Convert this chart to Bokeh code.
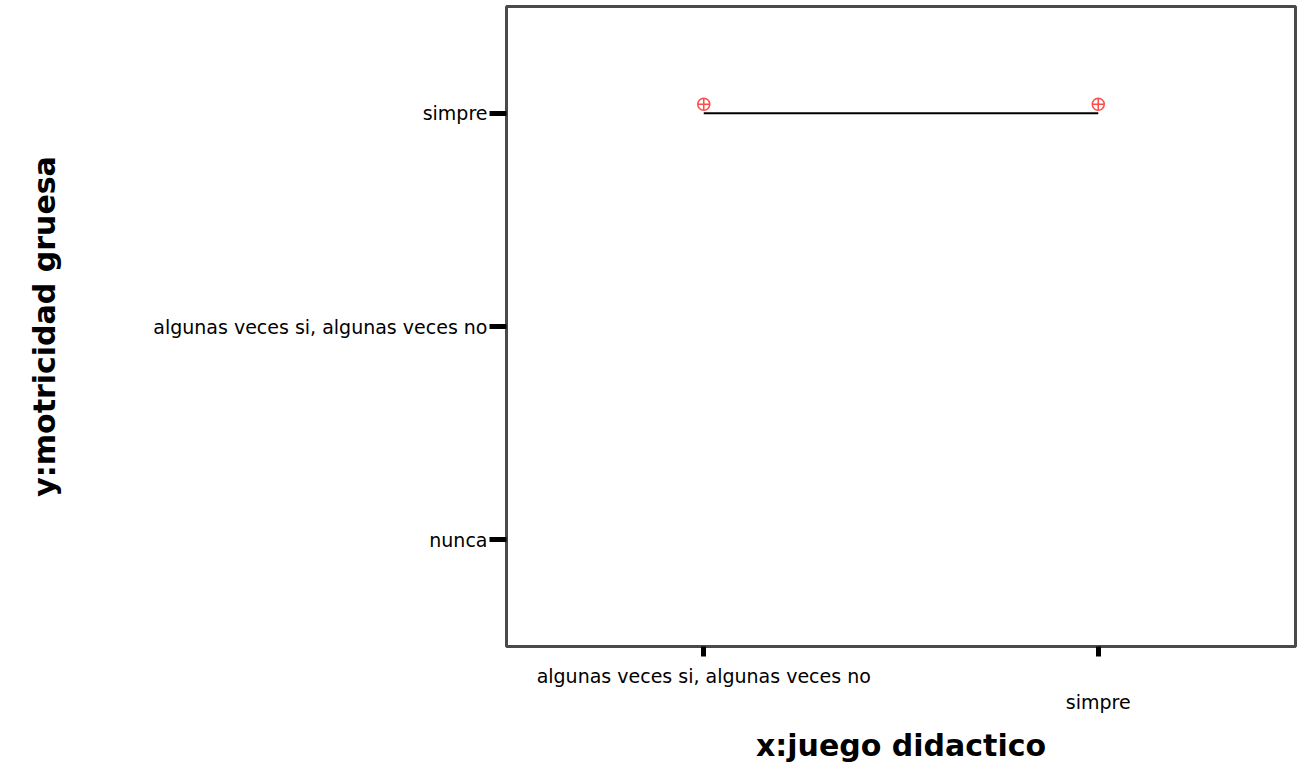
from bokeh.plotting import figure
from bokeh.models import Range1d, FixedTicker, ColumnDataSource
from bokeh.transform import dodge
from bokeh.embed import file_html
from bokeh.resources import INLINE

# ---- data ----
x_categories = ["algunas veces si, algunas veces no", "simpre"]
y_categories = ["nunca", "algunas veces si, algunas veces no", "simpre"]
point_x = ["algunas veces si, algunas veces no", "simpre"]
point_y = ["simpre", "simpre"]
x_title = "x:juego didactico"
y_title = "y:motricidad gruesa"

x_pos = [x_categories.index(c) + 1 for c in point_x]
y_pos = [y_categories.index(c) + 1 for c in point_y]
src = ColumnDataSource(dict(x=x_pos, y=y_pos))

p = figure(width=1297, height=765, output_backend="svg", toolbar_location=None,
           x_range=Range1d(0.5, len(x_categories) + 0.5),
           y_range=Range1d(0.5, len(y_categories) + 0.5),
           min_border_left=506, min_border_right=2, min_border_top=6,
           min_border_bottom=113)
p.background_fill_color = "white"
p.border_fill_color = "white"
p.outline_line_color = "#4a4a4a"
p.outline_line_width = 3
p.grid.visible = False

p.line("x", "y", source=src, line_color="black", line_width=2)
p.scatter(x="x", y=dodge("y", 0.042, range=p.y_range), source=src,
          marker="circle_cross", size=12, line_color="#ff4a4a",
          fill_color=None, line_width=1.5)

x_ticks = list(range(1, len(x_categories) + 1))
y_ticks = list(range(1, len(y_categories) + 1))
p.xaxis.ticker = FixedTicker(ticks=x_ticks)
p.yaxis.ticker = FixedTicker(ticks=y_ticks)
p.xaxis.major_label_overrides = {t: ("\n" * i) + c for i, (t, c) in enumerate(zip(x_ticks, x_categories))}
p.yaxis.major_label_overrides = {t: c for t, c in zip(y_ticks, y_categories)}

for ax in (p.xaxis[0], p.yaxis[0]):
    ax.axis_line_color = None
    ax.minor_tick_line_color = None
    ax.major_tick_in = 0
    ax.major_tick_line_width = 5
    ax.major_tick_line_color = "black"
    ax.major_label_text_font = "DejaVu Sans"
    ax.major_label_text_font_size = "19px"
    ax.major_label_text_color = "black"
    ax.axis_label_text_font = "DejaVu Sans"
    ax.axis_label_text_font_style = "bold"
    ax.axis_label_text_font_size = "30px"
    ax.axis_label_text_color = "black"

p.xaxis.major_tick_out = 10
p.yaxis.major_tick_out = 17
p.xaxis.major_label_standoff = 8
p.yaxis.major_label_standoff = 2
p.xaxis.axis_label = x_title
p.yaxis.axis_label = y_title
p.xaxis.axis_label_standoff = 12
p.yaxis.axis_label_standoff = 88

open("out.html", "w").write(file_html(p, INLINE))
